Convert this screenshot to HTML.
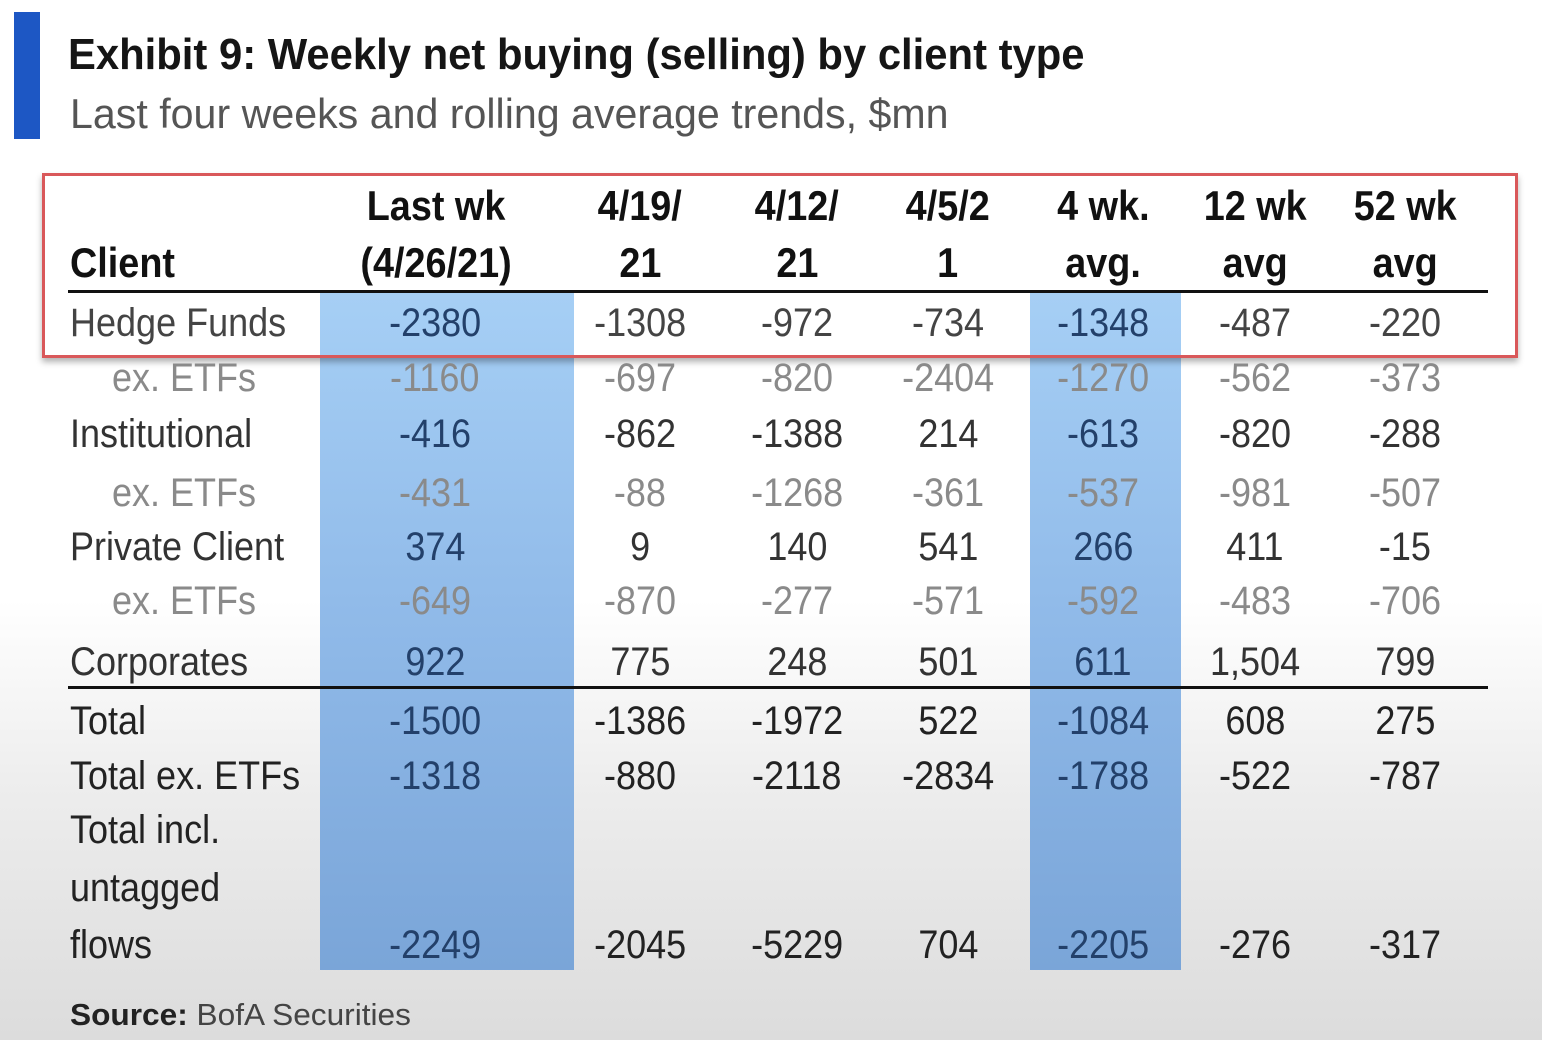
<!DOCTYPE html>
<html><head><meta charset="utf-8"><style>
html,body{margin:0;padding:0}
body{width:1542px;height:1040px;position:relative;overflow:hidden;font-family:"Liberation Sans",sans-serif;
background:linear-gradient(to bottom,#fff 0px,#fff 600px,#ececec 800px,#dcdcdc 1040px);}
.a{position:absolute;white-space:nowrap}
.c{position:absolute;width:240px;text-align:center;white-space:nowrap;font-size:40px;line-height:40px}
.c span,.l span,.h span{display:inline-block;transform:scaleX(0.9)}
.l{position:absolute;white-space:nowrap;font-size:40px;line-height:40px;left:70px}
.l span{transform-origin:left center}
.h{position:absolute;width:240px;text-align:center;white-space:nowrap;font-size:42px;line-height:42px;font-weight:bold;color:#111}
.hl{position:absolute;height:3px;background:#111}
.blue{position:absolute;background:linear-gradient(to bottom,#a6cff5,#8fb9e8 50%,#7aa5d8);}
</style></head><body>
<div class="a" style="left:14px;top:12px;width:26px;height:127px;background:#1d57c4"></div>
<div class="a" style="left:68px;top:30px;font-size:44px;font-weight:bold;color:#151515;transform:scaleX(0.95);transform-origin:left">Exhibit 9: Weekly net buying (selling) by client type</div>
<div class="a" style="left:70px;top:90px;font-size:42px;color:#555;transform:scaleX(0.98);transform-origin:left">Last four weeks and rolling average trends, $mn</div>

<div class="blue" style="left:320px;top:293px;width:254px;height:677px"></div>
<div class="blue" style="left:1030px;top:293px;width:151px;height:677px"></div>

<div class="a" style="left:42px;top:173px;width:1470px;height:179px;border:3px solid #d9585a;box-shadow:0 4px 6px rgba(0,0,0,0.3)"></div>

<div class="hl" style="left:68px;top:290px;width:1420px"></div>
<div class="hl" style="left:68px;top:686px;width:1420px"></div>

<div class="l" style="top:243px;font-weight:bold;color:#111;font-size:42px"><span>Client</span></div>
<div class="h" style="left:316px;top:185px"><span>Last wk</span></div>
<div class="h" style="left:316px;top:242px"><span>(4/26/21)</span></div>
<div class="h" style="left:520px;top:185px"><span>4/19/</span></div>
<div class="h" style="left:520px;top:242px"><span>21</span></div>
<div class="h" style="left:677px;top:185px"><span>4/12/</span></div>
<div class="h" style="left:677px;top:242px"><span>21</span></div>
<div class="h" style="left:828px;top:185px"><span>4/5/2</span></div>
<div class="h" style="left:828px;top:242px"><span>1</span></div>
<div class="h" style="left:983px;top:185px"><span>4 wk.</span></div>
<div class="h" style="left:983px;top:242px"><span>avg.</span></div>
<div class="h" style="left:1135px;top:185px"><span>12 wk</span></div>
<div class="h" style="left:1135px;top:242px"><span>avg</span></div>
<div class="h" style="left:1285px;top:185px"><span>52 wk</span></div>
<div class="h" style="left:1285px;top:242px"><span>avg</span></div>

<div id="rows"></div>
<script>
const cx=[435,640,797,948,1103,1255,1405];
const rows=[
[303,"Hedge Funds",["-2380","-1308","-972","-734","-1348","-487","-220"],"#444",70],
[358,"ex. ETFs",["-1160","-697","-820","-2404","-1270","-562","-373"],"#8a8a8a",112],
[414,"Institutional",["-416","-862","-1388","214","-613","-820","-288"],"#333",70],
[473,"ex. ETFs",["-431","-88","-1268","-361","-537","-981","-507"],"#8a8a8a",112],
[527,"Private Client",["374","9","140","541","266","411","-15"],"#333",70],
[581,"ex. ETFs",["-649","-870","-277","-571","-592","-483","-706"],"#8a8a8a",112],
[642,"Corporates",["922","775","248","501","611","1,504","799"],"#333",70],
[701,"Total",["-1500","-1386","-1972","522","-1084","608","275"],"#222",70],
[756,"Total ex. ETFs",["-1318","-880","-2118","-2834","-1788","-522","-787"],"#222",70],
[925,"flows",["-2249","-2045","-5229","704","-2205","-276","-317"],"#222",70]];
let h="";
for(const r of rows){
 h+=`<div class="l" style="top:${r[0]}px;left:${r[4]}px;color:${r[3]}"><span>${r[1]}</span></div>`;
 r[2].forEach((v,i)=>{let col=(i==0||i==4)&&r[3]!="#8a8a8a"?"#23406a":r[3];
 h+=`<div class="c" style="left:${cx[i]-120}px;top:${r[0]}px;color:${col}"><span>${v}</span></div>`;});
}
h+=`<div class="l" style="top:810px;color:#222"><span>Total incl.</span></div>`;
h+=`<div class="l" style="top:868px;color:#222"><span>untagged</span></div>`;
document.getElementById("rows").innerHTML=h;
</script>
<div class="a" style="left:70px;top:997px;font-size:31px;color:#444;transform:scaleX(1.02);transform-origin:left"><b style="color:#222">Source:</b> BofA Securities</div>
</body></html>
